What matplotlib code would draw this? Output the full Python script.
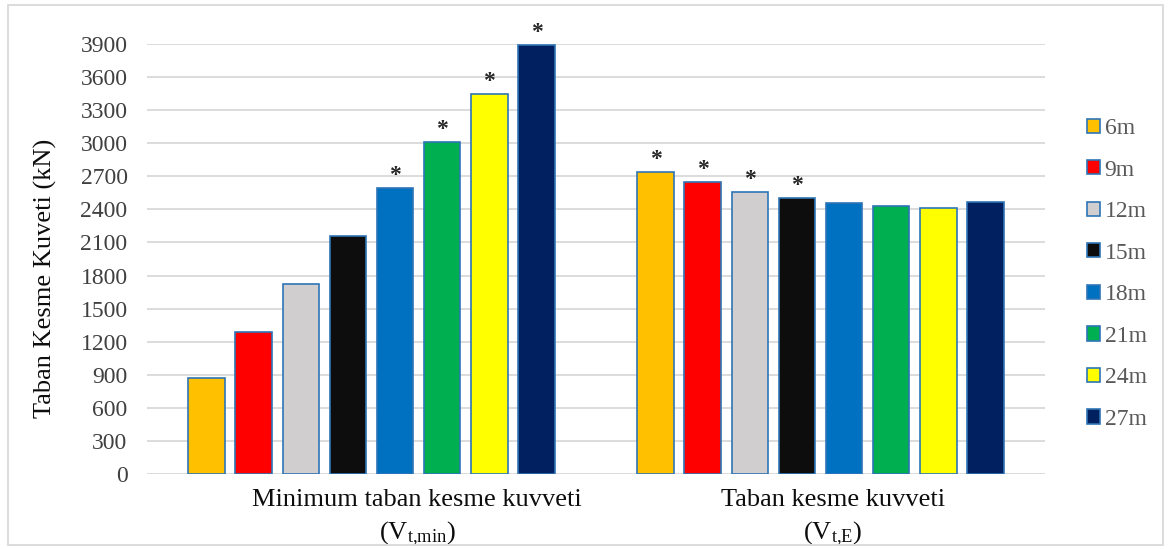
import matplotlib
matplotlib.use("Agg")
import matplotlib.pyplot as plt
import numpy as np
from matplotlib.patches import Rectangle

plt.rcParams['font.family'] = ['Liberation Serif', 'DejaVu Serif']
plt.rcParams['mathtext.fontset'] = 'custom'
plt.rcParams['mathtext.rm'] = 'Liberation Serif'
plt.rcParams['mathtext.it'] = 'Liberation Serif:italic'

# Data
groups = ["Minimum taban kesme kuvveti\n(V$_{\\mathrm{t{,}min}}$)",
          "Taban kesme kuvveti\n(V$_{\\mathrm{t{,}E}}$)"]
heights = ["6m", "9m", "12m", "15m", "18m", "21m", "24m", "27m"]
v_min = [870, 1290, 1725, 2160, 2595, 3012, 3445, 3890]
v_e = [2738, 2647, 2557, 2502, 2454, 2430, 2411, 2466]
# which bars carry a "*" marker (governing value)
star_min = [False, False, False, False, True, True, True, True]
star_e = [True, True, True, True, False, False, False, False]
yticks = list(range(0, 4200, 300))

colors = ["#FFC000", "#FF0000", "#D0CECE", "#0D0D0D",
          "#0070C0", "#00B050", "#FFFF00", "#002060"]
edge = "#2E75B6"

fig = plt.figure(figsize=(11.71, 5.49), dpi=100)
ax = fig.add_axes([147/1171, 1-474/549, (1045-147)/1171, (474-44)/549])

pitch = 0.105
width = 0.081
x = np.arange(len(groups))
series = np.array([v_min, v_e]).T
stars = np.array([star_min, star_e]).T
for i, name in enumerate(heights):
    xs = x + (i - 3.5) * pitch
    ax.bar(xs, series[i], width=width, color=colors[i], edgecolor=edge,
           linewidth=1.2, label=name, zorder=3)
    for j in range(len(groups)):
        if stars[i, j]:
            ax.annotate("*", (xs[j], series[i][j]), xytext=(0, 1.5),
                        textcoords="offset points", ha="center", va="bottom",
                        fontsize=17, fontweight="bold", color="#262626",
                        annotation_clip=False)

ax.set_xlim(-0.5, 1.5)
ax.set_ylim(0, 3900)
ax.set_yticks(yticks)
ax.set_xticks([])
ax.tick_params(axis='both', length=0)
ax.tick_params(axis='y', labelsize=17, labelcolor="#404040", pad=14)
ax.grid(axis='y', color="#D9D9D9", linewidth=1.3, zorder=0)
for s in ax.spines.values():
    s.set_visible(False)

# category captions, set slightly right of each group's centre
label_shift = [0.102, 0.027]
for j, txt in enumerate(groups):
    ax.text(x[j] + label_shift[j], -0.035, txt, transform=ax.get_xaxis_transform(),
            ha="center", va="top", fontsize=19, color="#0D0D0D",
            linespacing=1.42, multialignment="center")

fig.text(45/1171, 1-278/549, "Taban Kesme Kuveti (kN)", rotation=90,
         ha="center", va="center", fontsize=19, color="#0D0D0D")

leg = fig.legend(loc="center left", bbox_to_anchor=(1087/1171, 1-274/549),
                 frameon=False, fontsize=17, labelspacing=0.87,
                 handlelength=0.55, handleheight=0.55, handletextpad=0.2,
                 borderpad=0, borderaxespad=0)
for t in leg.get_texts():
    t.set_color("#595959")

fig.patches.append(Rectangle((8/1171, 1-545/549), (1163-8)/1171, (545-5)/549,
                             transform=fig.transFigure, fill=False,
                             edgecolor="#D9D9D9", linewidth=1.3))

fig.savefig("out.png", dpi=100)
